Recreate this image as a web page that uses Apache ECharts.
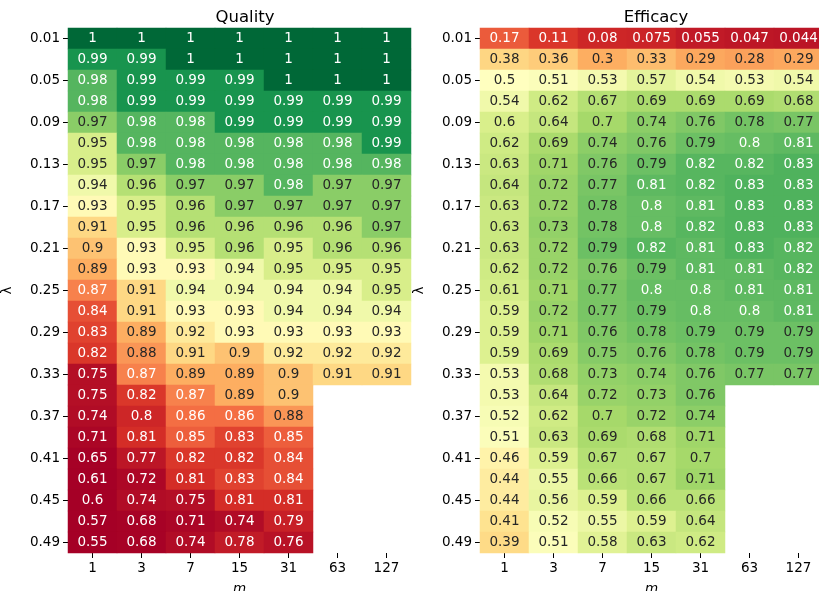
<!DOCTYPE html>
<html>
<head>
<meta charset="utf-8">
<script src="https://cdn.jsdelivr.net/npm/echarts@6/dist/echarts.min.js"></script>
<style>html,body{margin:0;padding:0;background:#fff}#c{width:819px;height:591px}</style>
</head>
<body>
<div id="c"></div>
<script>
var lambdas = ['0.01','0.03','0.05','0.07','0.09','0.11','0.13','0.15','0.17','0.19','0.21','0.23','0.25','0.27','0.29','0.31','0.33','0.35','0.37','0.39','0.41','0.43','0.45','0.47','0.49'];
var ms = ['1','3','7','15','31','63','127'];
var quality = [
  [1,1,1,1,1,1,1],
  [0.99,0.99,1,1,1,1,1],
  [0.98,0.99,0.99,0.99,1,1,1],
  [0.98,0.99,0.99,0.99,0.99,0.99,0.99],
  [0.97,0.98,0.98,0.99,0.99,0.99,0.99],
  [0.95,0.98,0.98,0.98,0.98,0.98,0.99],
  [0.95,0.97,0.98,0.98,0.98,0.98,0.98],
  [0.94,0.96,0.97,0.97,0.98,0.97,0.97],
  [0.93,0.95,0.96,0.97,0.97,0.97,0.97],
  [0.91,0.95,0.96,0.96,0.96,0.96,0.97],
  [0.9,0.93,0.95,0.96,0.95,0.96,0.96],
  [0.89,0.93,0.93,0.94,0.95,0.95,0.95],
  [0.87,0.91,0.94,0.94,0.94,0.94,0.95],
  [0.84,0.91,0.93,0.93,0.94,0.94,0.94],
  [0.83,0.89,0.92,0.93,0.93,0.93,0.93],
  [0.82,0.88,0.91,0.9,0.92,0.92,0.92],
  [0.75,0.87,0.89,0.89,0.9,0.91,0.91],
  [0.75,0.82,0.87,0.89,0.9],
  [0.74,0.8,0.86,0.86,0.88],
  [0.71,0.81,0.85,0.83,0.85],
  [0.65,0.77,0.82,0.82,0.84],
  [0.61,0.72,0.81,0.83,0.84],
  [0.6,0.74,0.75,0.81,0.81],
  [0.57,0.68,0.71,0.74,0.79],
  [0.55,0.68,0.74,0.78,0.76]
];
var efficacy = [
  [0.17,0.11,0.08,0.075,0.055,0.047,0.044],
  [0.38,0.36,0.3,0.33,0.29,0.28,0.29],
  [0.5,0.51,0.53,0.57,0.54,0.53,0.54],
  [0.54,0.62,0.67,0.69,0.69,0.69,0.68],
  [0.6,0.64,0.7,0.74,0.76,0.78,0.77],
  [0.62,0.69,0.74,0.76,0.79,0.8,0.81],
  [0.63,0.71,0.76,0.79,0.82,0.82,0.83],
  [0.64,0.72,0.77,0.81,0.82,0.83,0.83],
  [0.63,0.72,0.78,0.8,0.81,0.83,0.83],
  [0.63,0.73,0.78,0.8,0.82,0.83,0.83],
  [0.63,0.72,0.79,0.82,0.81,0.83,0.82],
  [0.62,0.72,0.76,0.79,0.81,0.81,0.82],
  [0.61,0.71,0.77,0.8,0.8,0.81,0.81],
  [0.59,0.72,0.77,0.79,0.8,0.8,0.81],
  [0.59,0.71,0.76,0.78,0.79,0.79,0.79],
  [0.59,0.69,0.75,0.76,0.78,0.79,0.79],
  [0.53,0.68,0.73,0.74,0.76,0.77,0.77],
  [0.53,0.64,0.72,0.73,0.76],
  [0.52,0.62,0.7,0.72,0.74],
  [0.51,0.63,0.69,0.68,0.71],
  [0.46,0.59,0.67,0.67,0.7],
  [0.44,0.55,0.66,0.67,0.71],
  [0.44,0.56,0.59,0.66,0.66],
  [0.41,0.52,0.55,0.59,0.64],
  [0.39,0.51,0.58,0.63,0.62]
];
var titles = ['Quality', 'Efficacy'];

var RdYlGn = ['#a50026','#d73027','#f46d43','#fdae61','#fee08b','#ffffbf','#d9ef8b','#a6d96a','#66bd63','#1a9850','#006837'];
function hex2rgb(h){return [parseInt(h.substr(1,2),16),parseInt(h.substr(3,2),16),parseInt(h.substr(5,2),16)];}
function cmap(t){
  t = Math.max(0, Math.min(1, t));
  var p = t * (RdYlGn.length - 1), i = Math.min(Math.floor(p), RdYlGn.length - 2), f = p - i;
  var a = hex2rgb(RdYlGn[i]), b = hex2rgb(RdYlGn[i+1]);
  return [a[0]+(b[0]-a[0])*f, a[1]+(b[1]-a[1])*f, a[2]+(b[2]-a[2])*f];
}
function lum(rgb){
  var c = rgb.map(function(v){v/=255; return v <= 0.03928 ? v/12.92 : Math.pow((v+0.055)/1.055, 2.4);});
  return 0.2126*c[0] + 0.7152*c[1] + 0.0722*c[2];
}
// colour coordinate: Quality uses a power norm (vmin 0.55, vmax 1), Efficacy a linear 0..1 norm
var colorCoord = [
  function(v){ return Math.pow(Math.max(0, (v - 0.55) / 0.45), 4.3); },
  function(v){ return v; }
];
var ranges = [[0, 1], [0, 1]];
function buildData(rows, k){
  var out = [], lo = ranges[k][0], hi = ranges[k][1];
  rows.forEach(function(row, yi){
    row.forEach(function(v, xi){
      var c = colorCoord[k](v);
      var col = cmap((c - lo)/(hi - lo));
      out.push({value:[xi, yi, v, c], label:{color: lum(col) > 0.408 ? '#262626' : '#ffffff'}});
    });
  });
  return out;
}
var datasets = [quality, efficacy];
var font = 'DejaVu Sans';
var grids = [
  {left:68, top:28, width:343, height:525, outerBoundsMode:'none', containLabel:false},
  {left:480, top:28, width:343, height:525, outerBoundsMode:'none', containLabel:false}
];

var option = {
  animation: false,
  textStyle: {fontFamily: font},
  title: [
    {text: titles[0], left: 240, top: 4, textAlign: 'center', textStyle:{fontFamily:font, fontSize:16.5, fontWeight:'normal', color:'#000'}},
    {text: titles[1], left: 651, top: 4, textAlign: 'center', textStyle:{fontFamily:font, fontSize:16.5, fontWeight:'normal', color:'#000'}}
  ],
  grid: grids,
  xAxis: [0,1].map(function(i){return {
    type:'category', gridIndex:i, data: ms, position:'bottom',
    name:'m', nameLocation:'middle', nameGap:29,
    nameTextStyle:{fontFamily:font, fontSize:13.5, fontStyle:'italic', color:'#000'},
    axisLine:{show:false}, splitLine:{show:false},
    axisTick:{show:true, alignWithLabel:true, length:5, lineStyle:{color:'#000', width:1}},
    axisLabel:{fontFamily:font, fontSize:13.5, color:'#000', margin:8}
  };}),
  yAxis: [0,1].map(function(i){return {
    type:'category', gridIndex:i, data: lambdas, inverse:true,
    name:'λ', nameLocation:'middle', nameGap:54, nameRotate:90,
    nameTextStyle:{fontFamily:font, fontSize:13.5, color:'#000'},
    axisLine:{show:false}, splitLine:{show:false},
    axisTick:{show:true, alignWithLabel:true, interval:1, length:5, lineStyle:{color:'#000', width:1}},
    axisLabel:{fontFamily:font, fontSize:13.5, color:'#000', interval:1, margin:8}
  };}),
  visualMap: [0,1].map(function(i){return {
    type:'continuous', show:false, seriesIndex:i, dimension:3,
    min: ranges[i][0], max: ranges[i][1], inRange:{color: RdYlGn}
  };}),
  series: [0,1].map(function(i){return {
    type:'heatmap', xAxisIndex:i, yAxisIndex:i,
    data: buildData(datasets[i], i),
    itemStyle:{borderWidth:0},
    emphasis:{disabled:true},
    label:{show:true, fontFamily:font, fontSize:13.5,
      formatter:function(p){return String(Number(p.value[2].toPrecision(2)));}}
  };})
};
var chart = echarts.init(document.getElementById('c'), null, {renderer:'canvas'});
chart.setOption(option);
</script>
</body>
</html>
